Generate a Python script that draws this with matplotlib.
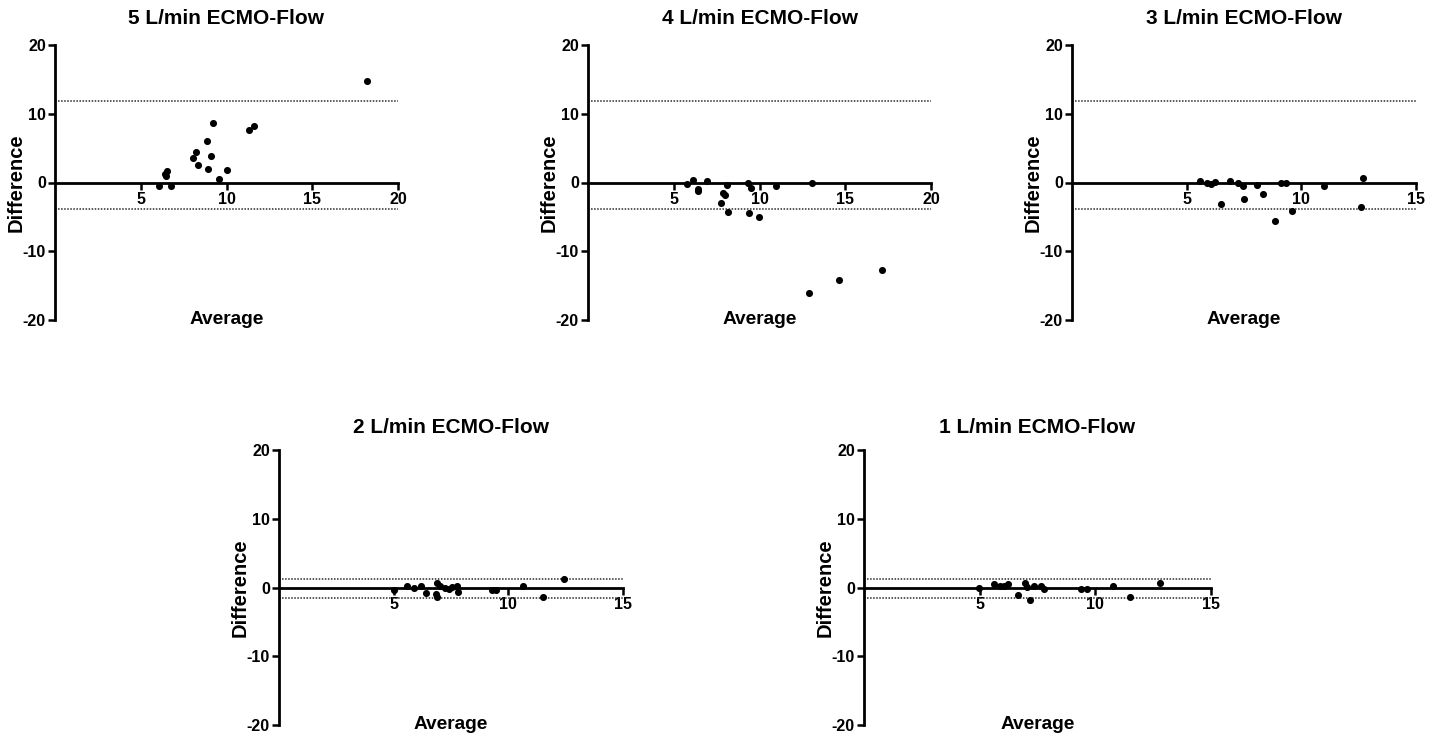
import matplotlib
matplotlib.use("Agg")
import matplotlib.pyplot as plt

plt.rcParams['font.family'] = ['Liberation Sans', 'DejaVu Sans']
plt.rcParams['axes.unicode_minus'] = False

titles = ["5 L/min ECMO-Flow", "4 L/min ECMO-Flow", "3 L/min ECMO-Flow",
          "2 L/min ECMO-Flow", "1 L/min ECMO-Flow"]

avg_5 = [18.2, 9.19, 11.63, 11.3, 8.84, 8.2, 8.04, 9.09, 8.35, 8.9, 10.0,
         6.54, 6.42, 6.5, 9.56, 6.05, 6.75]
diff_5 = [14.7, 8.6, 8.2, 7.6, 6.1, 4.4, 3.5, 3.8, 2.5, 1.9, 1.8,
          1.7, 1.3, 0.9, 0.5, -0.5, -0.5]

avg_4 = [5.78, 6.13, 6.4, 6.44, 6.91, 8.12, 7.9, 8.0, 7.75, 8.18, 9.35, 9.5,
         9.41, 9.95, 10.96, 13.05, 17.14, 14.64, 12.88]
diff_4 = [-0.15, 0.3, -1.2, -0.88, 0.2, -0.38, -1.55, -1.8, -2.93, -4.33, -0.1,
          -0.82, -4.43, -4.97, -0.52, 0.0, -12.66, -14.2, -16.1]

avg_3 = [5.59, 5.88, 6.06, 6.24, 6.87, 7.26, 7.45, 8.07, 9.13, 9.33, 10.97,
         12.68, 6.49, 7.48, 8.33, 8.83, 9.59, 12.58]
diff_3 = [0.29, -0.09, -0.19, 0.06, 0.29, -0.09, -0.58, -0.34, 0.0, 0.0, -0.48,
          0.69, -3.11, -2.34, -1.6, -5.64, -4.13, -3.59]

avg_2 = [5.0, 5.59, 5.88, 6.2, 6.42, 6.9, 6.85, 6.9, 7.04, 7.22, 7.41, 7.56,
         7.78, 7.82, 9.27, 9.46, 10.63, 12.41, 11.51]
diff_2 = [-0.3, 0.29, -0.05, 0.25, -0.77, 0.63, -1.0, -1.4, 0.15, -0.05, -0.2,
          0.05, 0.19, -0.68, -0.3, -0.3, 0.29, 1.26, -1.31]

avg_1 = [4.99, 5.63, 5.87, 6.05, 6.23, 6.67, 6.98, 7.05, 7.19, 7.34, 7.66, 7.8,
         9.36, 9.62, 10.76, 11.51, 12.79]
diff_1 = [0.0, 0.44, 0.15, 0.15, 0.44, -1.16, 0.63, 0.05, -1.75, 0.29, 0.15,
          -0.29, -0.29, -0.29, 0.15, -1.31, 0.68]

# limits of agreement (upper, lower)
loa = [(11.9, -3.8), (11.9, -3.8), (11.9, -3.8), (1.2, -1.5), (1.2, -1.5)]
x_max = [20, 20, 15, 15, 15]
x_ticks = [[5, 10, 15, 20], [5, 10, 15, 20], [5, 10, 15], [5, 10, 15], [5, 10, 15]]
y_ticks = [-20, -10, 0, 10, 20]

avgs = [avg_5, avg_4, avg_3, avg_2, avg_1]
diffs = [diff_5, diff_4, diff_3, diff_2, diff_1]

W, H = 1431, 738
fig = plt.figure(figsize=(W / 100, H / 100), dpi=100)

# axes boxes in pixels: left, top, width, height
boxes = [(55, 45, 343, 275), (588, 45, 343, 275), (1072, 45, 344, 275),
         (279, 450, 344, 275), (864, 450, 347, 275)]
title_pad = [15, 15, 15, 12, 12]

for i, (l, t, w, h) in enumerate(boxes):
    ax = fig.add_axes([l / W, 1 - (t + h) / H, w / W, h / H])
    ax.set_xlim(0, x_max[i])
    ax.set_ylim(-20, 20)
    for s in ['top', 'right']:
        ax.spines[s].set_visible(False)
    ax.spines['bottom'].set_position(('data', 0))
    ax.spines['bottom'].set_linewidth(2.0)
    ax.spines['left'].set_linewidth(2.0)
    ax.set_xticks(x_ticks[i])
    ax.set_yticks(y_ticks)
    ax.tick_params(axis='both', direction='out', width=1.8, length=5,
                   labelsize=11.5, pad=1.5)
    for lab in ax.get_xticklabels() + ax.get_yticklabels():
        lab.set_fontweight('bold')
    up, lo = loa[i]
    ax.axhline(up, color='#2a2a2a', lw=1.1, ls=(0, (1, 1)))
    ax.axhline(lo, color='#2a2a2a', lw=1.1, ls=(0, (1, 1)))
    ax.scatter(avgs[i], diffs[i], s=26, color='black', zorder=3, clip_on=False,
               linewidths=0)
    ax.set_title(titles[i], fontsize=15, fontweight='bold', pad=title_pad[i])
    ax.set_ylabel("Difference", fontsize=14.5, fontweight='bold')
    ax.yaxis.set_label_coords(-29 / w, 0.5)
    ax.text(0.5, 0.002, "Average", transform=ax.transAxes, ha='center',
            va='center', fontsize=13.8, fontweight='bold')

fig.savefig("out.png", dpi=100)
